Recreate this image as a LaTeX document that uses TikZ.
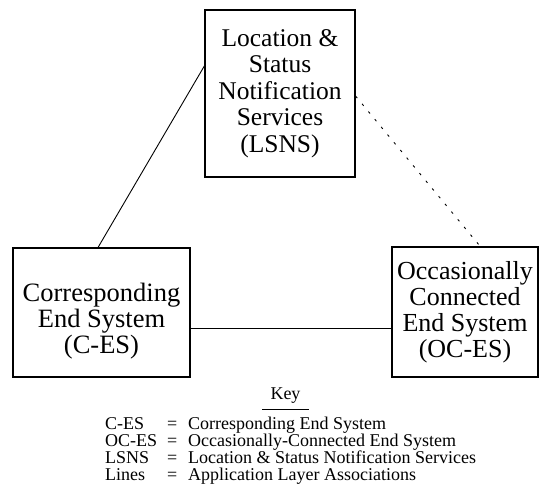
\documentclass[tikz,border=0pt]{standalone}
\usepackage{fontspec}
\setmainfont{Liberation Serif}
\begin{document}
\begin{tikzpicture}[x=1pt,y=1pt,
	sysbox/.style={draw,line width=1.3pt,align=center,inner sep=0pt,font=\fontsize{25.5}{26.5}\selectfont},
	systext/.style={align=center,inner sep=0pt,font=\fontsize{26.5}{26}\selectfont},
	keyfont/.style={font=\fontsize{18}{16.4}\selectfont}]
	\useasboundingbox (0,0) rectangle (540,491);
	% the three systems
	\node[sysbox,minimum width=150pt,minimum height=167pt] (lsns) at (280,397.5) {Location \&\\Status\\Notification\\Services\\(LSNS)};
	\node[sysbox,minimum width=177pt,minimum height=129pt] (ces) at (101.5,178.5) {};
	\node[systext] (cestext) at (101.5,169.5) {Corresponding\\End System\\(C-ES)};
	\node[sysbox,minimum width=146pt,minimum height=130pt,font=\fontsize{26}{26}\selectfont] (oces) at (465,179) {Occasionally\\Connected\\End System\\(OC-ES)};
	% associations
	\draw[line width=0.9pt] (lsns.160.5) -- (ces.93);
	\draw[line width=0.9pt,dash pattern=on 2.5pt off 7.5pt] (lsns.-2.7) -- (oces.77);
	\draw[line width=0.9pt] (ces.-10.6) -- (ces.-10.6 -| oces.west);
	% key
	\node[keyfont,inner xsep=8pt,inner ysep=0pt,anchor=base] (key) at (285.5,92) {Key};
	\draw[line width=1pt] ([yshift=-10pt]key.base west) -- ([yshift=-10pt]key.base east);
	\node[keyfont,align=left,inner sep=0pt,anchor=north west] (keytext) at (105,74) {\makebox[62pt][l]{C-ES}\makebox[21pt][l]{=}Corresponding End System\\
		\makebox[62pt][l]{OC-ES}\makebox[21pt][l]{=}Occasionally-Connected End System\\
		\makebox[62pt][l]{LSNS}\makebox[21pt][l]{=}Location \& Status Notification Services\\
		\makebox[62pt][l]{Lines}\makebox[21pt][l]{=}Application Layer Associations};
\end{tikzpicture}
\end{document}
